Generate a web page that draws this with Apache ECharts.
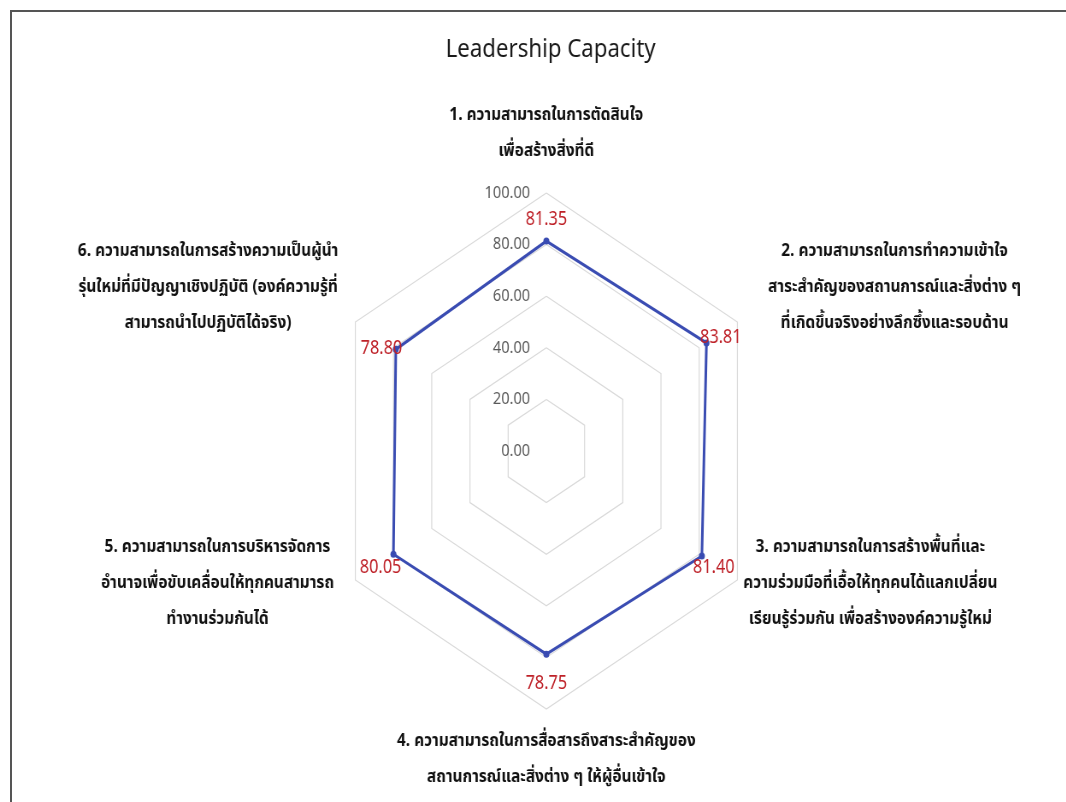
<!DOCTYPE html>
<html>
<head>
<meta charset="utf-8">
<title>Leadership Capacity</title>
<script src="https://cdn.jsdelivr.net/npm/echarts@6/dist/echarts.min.js"></script>
<style>
  html, body { margin: 0; padding: 0; background: #fff; overflow: hidden; }
  #frame {
    position: absolute; left: 10px; top: 10px; width: 1100px; height: 850px;
    border-top: 2px solid #555; border-left: 2px solid #555;
  }
  /* the original picture is squeezed sideways, so the chart is drawn wider and pressed back */
  #main {
    position: absolute; left: 0; top: 0; width: 1247px; height: 802px;
    transform: scaleX(0.855); transform-origin: 0 0;
  }
</style>
</head>
<body>
<div id="frame"></div>
<div id="main"></div>
<script>
  // ชื่อด้านของเรดาร์ (แต่ละบรรทัดแยกไว้)
  var indicatorLines = [
    ['1. ความสามารถในการตัดสินใจ', 'เพื่อสร้างสิ่งที่ดี'],
    ['2. ความสามารถในการทำความเข้าใจ', 'สาระสำคัญของสถานการณ์และสิ่งต่าง ๆ', 'ที่เกิดขึ้นจริงอย่างลึกซึ้งและรอบด้าน'],
    ['3. ความสามารถในการสร้างพื้นที่และ', 'ความร่วมมือที่เอื้อให้ทุกคนได้แลกเปลี่ยน', 'เรียนรู้ร่วมกัน เพื่อสร้างองค์ความรู้ใหม่'],
    ['4. ความสามารถในการสื่อสารถึงสาระสำคัญของ', 'สถานการณ์และสิ่งต่าง ๆ ให้ผู้อื่นเข้าใจ'],
    ['5. ความสามารถในการบริหารจัดการ', 'อำนาจเพื่อขับเคลื่อนให้ทุกคนสามารถ', 'ทำงานร่วมกันได้'],
    ['6. ความสามารถในการสร้างความเป็นผู้นำ', 'รุ่นใหม่ที่มีปัญญาเชิงปฏิบัติ (องค์ความรู้ที่', 'สามารถนำไปปฏิบัติได้จริง)']
  ];
  var scores = [81.35, 83.81, 81.40, 78.75, 80.05, 78.80];
  var axisMax = 100;
  var axisSplits = 5;

  // echarts วางด้านทวนเข็มนาฬิกา จึงเรียงใหม่ให้เป็นตามเข็ม
  var clockwiseOrder = [0, 5, 4, 3, 2, 1];

  // ตำแหน่งป้ายตัวเลขสีแดง (ตามลำดับเดิม)
  var valuePlaces = [
    { position: 'top', distance: 12, offset: [0, 0] },
    { position: 'right', distance: -8, offset: [0, -5] },
    { position: 'bottom', distance: 2, offset: [14, 0] },
    { position: 'bottom', distance: 19, offset: [0, 0] },
    { position: 'bottom', distance: 3, offset: [-15, 0] },
    { position: 'left', distance: -8, offset: [0, -1] }
  ];
  // เลื่อนชื่อด้าน: [ซ้าย, ขวา, ช่องบน, ช่องล่าง]
  var nameShift = [
    [0, 0, 0, 14],
    [29, 0, 0, 60],
    [0, 0, 0, 0],
    [0, 0, 7, 0],
    [0, 18, 0, 0],
    [0, 13, 0, 60]
  ];

  var names = indicatorLines.map(function (l) { return l.join(' '); });

  var rich = {};
  for (var i = 0; i < nameShift.length; i++) {
    rich['t' + i] = {
      fontSize: 18, fontWeight: 'bold', color: '#111', lineHeight: 36, align: 'center',
      fontFamily: '"Noto Sans Thai", "Noto Sans", Tahoma, sans-serif',
      padding: [0, nameShift[i][1], 0, nameShift[i][0]]
    };
    rich['top' + i] = { height: nameShift[i][2], lineHeight: nameShift[i][2], fontSize: 1 };
    rich['bot' + i] = { height: nameShift[i][3], lineHeight: nameShift[i][3], fontSize: 1 };
  }

  var indicators = clockwiseOrder.map(function (k) {
    var ind = { name: names[k], max: axisMax, min: 0 };
    if (k !== 0) ind.axisLabel = { show: false };
    return ind;
  });
  var orderedScores = clockwiseOrder.map(function (k) { return scores[k]; });

  var labelItems = scores.map(function (s, k) {
    return {
      value: orderedScores,
      label: {
        show: true,
        position: valuePlaces[k].position,
        distance: valuePlaces[k].distance,
        offset: valuePlaces[k].offset
      }
    };
  });

  var myChart = echarts.init(document.getElementById('main'));

  var option = {
    animation: false,
    title: {
      text: 'Leadership Capacity',
      left: 639,
      textAlign: 'center',
      top: 32,
      textStyle: { fontSize: 26, fontWeight: 'normal', color: '#1a1a1a', fontFamily: '"Noto Sans", sans-serif' }
    },
    radar: {
      center: [639, 451],
      radius: 258,
      startAngle: 90,
      splitNumber: axisSplits,
      shape: 'polygon',
      axisNameGap: 8,
      axisName: {
        formatter: function (value) {
          var k = names.indexOf(value);
          var s = '';
          if (nameShift[k][2] > 0) s += '{top' + k + '| }\n';
          s += indicatorLines[k].map(function (l) { return '{t' + k + '|' + l + '}'; }).join('\n');
          if (nameShift[k][3] > 0) s += '\n{bot' + k + '| }';
          return s;
        },
        rich: rich
      },
      indicator: indicators,
      axisLine: { show: false },
      axisTick: { show: false },
      splitArea: { show: false },
      splitLine: { lineStyle: { color: '#D9D9D9', width: 1.2 } },
      axisLabel: {
        show: true,
        margin: 19,
        fontSize: 17,
        color: '#595959',
        fontFamily: '"Noto Sans", sans-serif',
        formatter: function (v) { return v.toFixed(2); }
      }
    },
    series: [
      {
        type: 'radar',
        silent: true,
        symbol: 'circle',
        symbolSize: 7,
        lineStyle: { color: '#3A4CB2', width: 3 },
        itemStyle: { color: '#3A4CB2' },
        data: [{ value: orderedScores }]
      },
      {
        // เฉพาะป้ายตัวเลข
        type: 'radar',
        silent: true,
        symbol: 'circle',
        symbolSize: 1,
        lineStyle: { opacity: 0, width: 0 },
        itemStyle: { color: '#3A4CB2' },
        label: {
          fontSize: 19,
          color: '#BE2128',
          fontFamily: '"Noto Sans", sans-serif',
          formatter: function (p) {
            var v = Array.isArray(p.value) ? null : p.value;
            return v === scores[p.dataIndex] ? v.toFixed(2) : '';
          }
        },
        data: labelItems
      }
    ]
  };

  myChart.setOption(option);
</script>
</body>
</html>
